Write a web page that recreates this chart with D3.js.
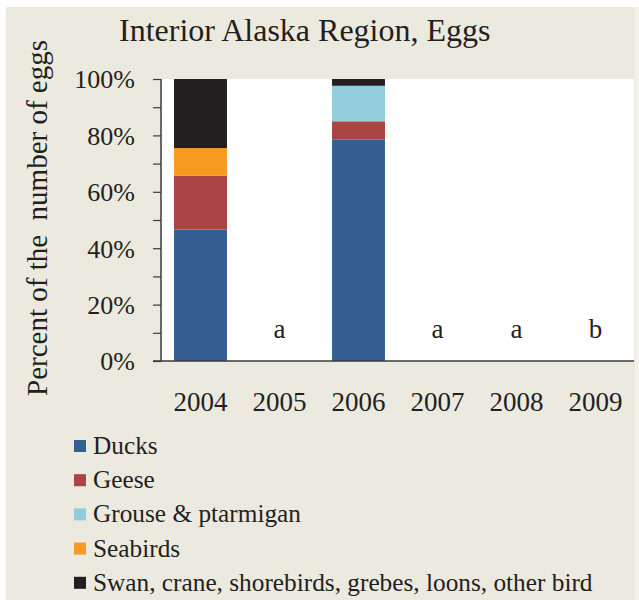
<!DOCTYPE html>
<html><head><meta charset="utf-8">
<script src="https://cdn.jsdelivr.net/npm/d3@7"></script>
<style>body{margin:0;background:#fff}svg{display:block}text{font-family:"Liberation Serif","Times New Roman",serif;fill:#231f20}</style>
</head><body>
<script>
const years = ["2004","2005","2006","2007","2008","2009"];
const seriesNames = ["Ducks","Geese","Grouse & ptarmigan","Seabirds","Swan, crane, shorebirds, grebes, loons, other bird"];
const ducks    = [46.6, 0, 78.6, 0, 0, 0];
const geese    = [19.1, 0, 6.4, 0, 0, 0];
const grouse   = [0, 0, 12.6, 0, 0, 0];
const seabirds = [9.8, 0, 0, 0, 0, 0];
const other    = [24.5, 0, 2.4, 0, 0, 0];
const noteLabels = ["", "a", "", "a", "a", "b"];
const yTicks = [0, 20, 40, 60, 80, 100];
const colors = ["#355f93","#a94542","#93cddd","#f89a1f","#231f20"];

const W = 639, H = 600;
const svg = d3.select("body").append("svg").attr("width", W).attr("height", H);
svg.append("rect").attr("x",6).attr("y",7).attr("width",629).attr("height",593).attr("fill","#ece9df");
svg.append("rect").attr("x",635).attr("y",7).attr("width",4).attr("height",593).attr("fill","#f3f1ea");

const pL = 161, pR = 635, pT = 79, pB = 361;
svg.append("rect").attr("x",pL).attr("y",pT).attr("width",634-pL).attr("height",pB-pT).attr("fill","#fff");

const x = d3.scaleBand().domain(years).range([pL, pR]).paddingInner(0.33).paddingOuter(0.165);
const y = d3.scaleLinear().domain([0, 100]).range([pB, pT]);

const table = years.map((yr, i) => ({year: yr, s0: ducks[i], s1: geese[i], s2: grouse[i], s3: seabirds[i], s4: other[i]}));
const stack = d3.stack().keys(["s0","s1","s2","s3","s4"])(table);

svg.append("g").selectAll("g").data(stack).join("g")
  .attr("fill", (d, i) => colors[i])
  .selectAll("rect").data(d => d).join("rect")
  .attr("x", d => x(d.data.year))
  .attr("width", x.bandwidth())
  .attr("y", d => y(d[1]))
  .attr("height", d => Math.max(0, y(d[0]) - y(d[1])));

// y axis
const yAxis = svg.append("g").attr("transform", `translate(${pL},0)`)
  .call(d3.axisLeft(y).tickValues(d3.range(0, 101, 10)).tickSize(8).tickFormat(""));
yAxis.select(".domain").attr("stroke","#3a3a3a").attr("stroke-width",1.5).attr("d", `M0,${pT}V${pB}`);
yAxis.selectAll(".tick line").attr("stroke","#3a3a3a").attr("stroke-width",1.2);

svg.append("g").selectAll("text").data(yTicks).join("text")
  .attr("x", 135).attr("y", d => y(d)).attr("dy","0.36em")
  .attr("text-anchor","end").attr("font-size", 26)
  .text(d => d + "%");

// x baseline
svg.append("line").attr("x1",153).attr("x2",634).attr("y1",pB).attr("y2",pB)
  .attr("stroke","#3a3a3a").attr("stroke-width",1.5);

svg.append("g").selectAll("text").data(years).join("text")
  .attr("x", d => x(d) + x.bandwidth()/2).attr("y", 411)
  .attr("text-anchor","middle").attr("font-size", 27)
  .text(d => d);

svg.append("g").selectAll("text").data(years.map((yr,i)=>({yr, t: noteLabels[i]})).filter(d=>d.t)).join("text")
  .attr("x", d => x(d.yr) + x.bandwidth()/2).attr("y", 338)
  .attr("text-anchor","middle").attr("font-size", 27)
  .text(d => d.t);

// title
svg.append("text").attr("x",119).attr("y",41).attr("font-size",32).text("Interior Alaska Region, Eggs");

// y title
svg.append("text").attr("transform","translate(47,218) rotate(-90)")
  .attr("text-anchor","middle").attr("font-size",29)
  .attr("xml:space","preserve").style("white-space","pre")
  .text("Percent of the  number of eggs");

// legend
const lg = svg.append("g").selectAll("g").data(seriesNames).join("g")
  .attr("transform", (d, i) => `translate(74,${446 + i*34.2})`);
lg.append("rect").attr("x",0).attr("y",-6).attr("width",12).attr("height",12).attr("fill",(d,i)=>colors[i]);
lg.append("text").attr("x",19).attr("y",8).attr("font-size",25.3).text(d => d);
</script>
</body></html>
